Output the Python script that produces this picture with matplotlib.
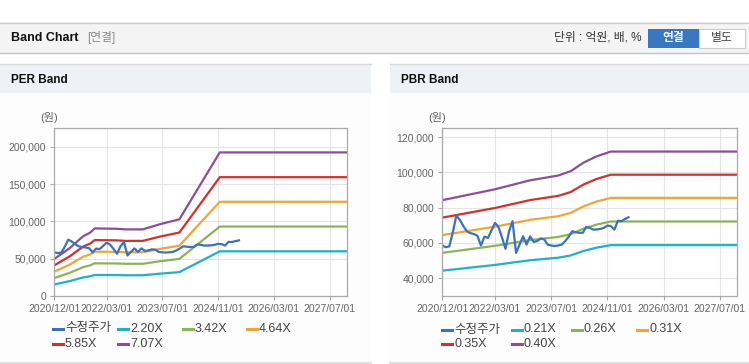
import matplotlib
matplotlib.use("Agg")
import matplotlib.pyplot as plt
from matplotlib.patches import Rectangle
from matplotlib.lines import Line2D
from matplotlib.ticker import FuncFormatter

plt.rcParams['font.family'] = ['Liberation Sans', 'Noto Sans CJK KR', 'DejaVu Sans']

W, H = 749, 364

# x values are months counted from 2020/12/01
price_months = list(range(1, 55))
price = [58500, 57500, 58000, 66000, 75500, 73000, 69500, 66500, 65500, 65000,
         64000, 58500, 63500, 62800, 67000, 71300, 69000, 63000, 56600, 66500,
         72300, 54300, 59000, 63700, 59000, 63700, 60500, 61000, 62500, 62000,
         59000, 58500, 58200, 58500, 59000, 61000, 63500, 66600, 66000, 65700,
         65700, 69000, 68500, 67500, 67600, 67900, 68500, 69800, 69500, 67500,
         72500, 72300, 73500, 74500]

# PER band: EPS basis times multiple
per_months = [1, 5.5, 9.3, 11.2, 12.6, 18.8, 21.5, 26.4, 31.2, 36.9, 43, 48.5, 85]
per_eps = [7020, 9110, 11330, 11970, 12800, 12740, 12620, 12620, 13580, 14530,
           21200, 27200, 27200]
per_multiples = [2.20, 3.42, 4.64, 5.85, 7.07]

# PBR band: BPS basis times multiple
pbr_months = [1, 16, 26, 34, 37.5, 41.3, 45, 49, 85]
pbr_bps = [210500, 226000, 238700, 245500, 251500, 264000, 272800, 279500, 279500]
pbr_multiples = [0.210, 0.258, 0.306, 0.353, 0.400]

tick_months = [1, 16, 32, 48, 64, 80]
tick_labels = ['2020/12/01', '2022/03/01', '2023/07/01', '2024/11/01',
               '2026/03/01', '2027/07/01']

price_color = '#3a72c0'
band_colors = ['#1cb2c8', '#8cb454', '#f0a534', '#d4302c', '#8c4f96']

fig = plt.figure(figsize=(W / 100, H / 100), dpi=100)
fig.patch.set_facecolor('white')


def rect(x0, y0, x1, y1, fc, ec='none', lw=0, z=-10):
    fig.add_artist(Rectangle((x0 / W, 1 - y1 / H), (x1 - x0) / W, (y1 - y0) / H,
                             transform=fig.transFigure, fc=fc, ec=ec, lw=lw,
                             zorder=z))


def hline(x0, x1, y, color, lw=1):
    fig.add_artist(Line2D([x0 / W, x1 / W], [1 - y / H] * 2, color=color, lw=lw,
                          transform=fig.transFigure, zorder=5))


def text(x, y, s, **kw):
    fig.text(x / W, 1 - y / H, s, va='center', zorder=6, **kw)


# top header
rect(0, 22, W, 53, '#f4f4f4')
hline(0, W, 22.5, '#cccccc')
hline(0, W, 53, '#c4c4c4')
text(11, 38, 'Band Chart', fontsize=9, fontweight='bold', color='#111111')
text(87, 38, '[연결]', fontsize=8.5, color='#888888')
text(641, 38, '단위 : 억원, 배, %', fontsize=8.5, color='#333333', ha='right')
rect(648, 29, 699, 48, '#3877c2', z=-5)
rect(699, 29, 745, 48, 'white', ec='#cccccc', lw=0.8, z=-5)
text(673.5, 38.5, '연결', fontsize=8.5, color='white', fontweight='bold', ha='center')
text(722, 38.5, '별도', fontsize=8.5, color='#444444', ha='center')

# panels
for x0, x1, title in [(0, 371, 'PER Band'), (390, W, 'PBR Band')]:
    rect(x0, 64, x1, 93, '#eef1f6')
    rect(x0, 93, x1, 363, '#fdfdfd')
    hline(x0, x1, 64, '#d9d9d9')
    hline(x0, x1, 363, '#d9d9d9', lw=1.2)
    text(x0 + 11, 80, title, fontsize=8.5, fontweight='bold', color='#111111')


def band_axes(box, basis_months, basis, multiples, labels, yticks, ylim, unit_x,
              legend_x, legend_y):
    left, top, right, bottom = box
    ax = fig.add_axes([left / W, 1 - bottom / H, (right - left) / W, (bottom - top) / H])
    ax.set_facecolor('white')
    for m, c in zip(multiples, band_colors):
        ax.plot(basis_months, [b * m for b in basis], color=c, lw=1.6,
                solid_joinstyle='round')
    ax.plot(price_months, price, color=price_color, lw=1.6, solid_joinstyle='round')
    ax.set_xlim(1, 85)
    ax.set_ylim(*ylim)
    ax.set_xticks(tick_months)
    ax.set_xticklabels(tick_labels)
    ax.set_yticks(yticks)
    ax.yaxis.set_major_formatter(FuncFormatter(lambda v, p: f'{int(v):,}'))
    ax.grid(True, color='#e4e4e4', lw=0.8)
    ax.set_axisbelow(True)
    for s in ax.spines.values():
        s.set_color('#aaaaaa')
        s.set_linewidth(0.9)
    ax.tick_params(colors='#aaaaaa', labelcolor='#666666', labelsize=7.5, length=3,
                   width=0.8, pad=3)
    text(unit_x, 118, '(원)', fontsize=8, color='#666666', ha='center')

    names = ['수정주가'] + labels
    colors = [price_color] + band_colors
    for i, (n, c) in enumerate(zip(names, colors)):
        x = legend_x[i % 4]
        y = legend_y[i // 4]
        hline(x, x + 10, y, c, lw=2.2)
        text(x + 12, y, n, fontsize=9, color='#444444')
    return ax


band_axes((54.3, 128, 347, 296), per_months, per_eps, per_multiples,
          [f'{m:.2f}X' for m in per_multiples],
          [0, 50000, 100000, 150000, 200000], (0, 225000), 49,
          [53, 118, 183, 247], [328.5, 344])

band_axes((442.3, 128.3, 737.3, 295.7), pbr_months, pbr_bps, pbr_multiples,
          [f'{m:.2f}X' for m in pbr_multiples],
          [40000, 60000, 80000, 100000, 120000], (30000, 125000), 437,
          [442, 512, 572, 637], [329.5, 344])

fig.savefig('out.png', dpi=100)
